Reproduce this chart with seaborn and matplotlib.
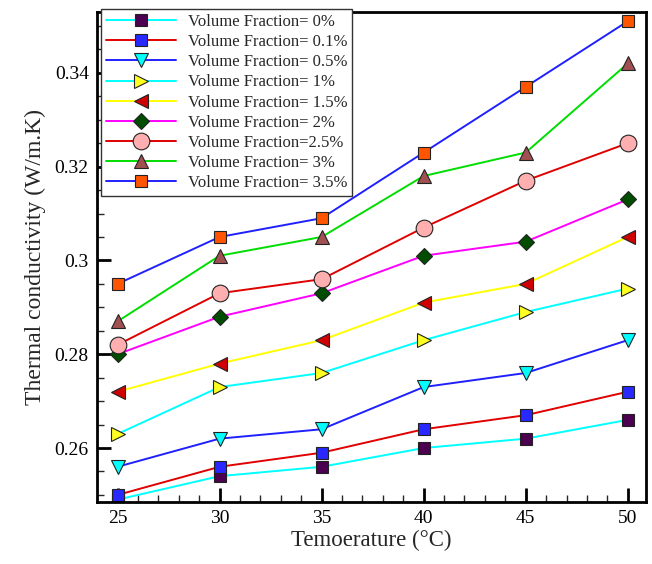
import pandas as pd
import matplotlib
matplotlib.use("Agg")
import matplotlib.pyplot as plt
from matplotlib.ticker import MultipleLocator
import seaborn as sns

# Dados
temperature = [25, 30, 35, 40, 45, 50]
labels = ["Volume Fraction= 0%", "Volume Fraction= 0.1%", "Volume Fraction= 0.5%",
          "Volume Fraction= 1%", "Volume Fraction= 1.5%", "Volume Fraction= 2%",
          "Volume Fraction=2.5%", "Volume Fraction= 3%", "Volume Fraction= 3.5%"]
vf_0 = [0.249, 0.254, 0.256, 0.260, 0.262, 0.266]
vf_01 = [0.250, 0.256, 0.259, 0.264, 0.267, 0.272]
vf_05 = [0.256, 0.262, 0.264, 0.273, 0.276, 0.283]
vf_1 = [0.263, 0.273, 0.276, 0.283, 0.289, 0.294]
vf_15 = [0.272, 0.278, 0.283, 0.291, 0.295, 0.305]
vf_2 = [0.280, 0.288, 0.293, 0.301, 0.304, 0.313]
vf_25 = [0.282, 0.293, 0.296, 0.307, 0.317, 0.325]
vf_3 = [0.287, 0.301, 0.305, 0.318, 0.323, 0.342]
vf_35 = [0.295, 0.305, 0.309, 0.323, 0.337, 0.351]
series = [vf_0, vf_01, vf_05, vf_1, vf_15, vf_2, vf_25, vf_3, vf_35]

# Estilo de cada curva: (cor da linha, marcador, cor do marcador, tamanho)
styles = [
    ("#00FFFF", "s", "#4B0050", 9),
    ("#E00000", "s", "#2828FF", 9),
    ("#2020FF", "v", "#00FFFF", 10),
    ("#00FFFF", ">", "#FFFF20", 10),
    ("#FFFF00", "<", "#D00000", 10),
    ("#FF00FF", "D", "#004D00", 8),
    ("#E00000", "o", "#FFAFAF", 12),
    ("#00DD00", "^", "#A05050", 10),
    ("#2020FF", "s", "#FF5500", 9),
]

sns.set_style("white")
plt.rcParams["font.family"] = ["Liberation Serif", "DejaVu Serif"]

fig, ax = plt.subplots(figsize=(6.52, 5.64), dpi=100)
fig.subplots_adjust(left=0.149, right=0.991, top=0.979, bottom=0.110)

for lab, vals, (lc, mk, mc, ms) in zip(labels, series, styles):
    df = pd.DataFrame({"T": temperature, "k": vals})
    sns.lineplot(data=df, x="T", y="k", ax=ax, color=lc, marker=mk,
                 markerfacecolor=mc, markeredgecolor="#222222", markeredgewidth=0.8,
                 markersize=ms, linewidth=1.4, label=lab)

ax.set_xlim(24.0, 50.9)
ax.set_ylim(0.2485, 0.353)
ax.xaxis.set_major_locator(MultipleLocator(5))
ax.xaxis.set_minor_locator(MultipleLocator(1))
ax.yaxis.set_major_locator(MultipleLocator(0.02))
ax.yaxis.set_minor_locator(MultipleLocator(0.005))
ax.yaxis.set_major_formatter(plt.FuncFormatter(lambda v, p: f"{v:g}"))
ax.tick_params(which="major", direction="in", length=10, width=2, labelsize=14,
               colors="black", bottom=True, left=True, top=False, right=False, pad=6)
ax.tick_params(which="minor", direction="in", length=5, width=1,
               bottom=True, left=True, top=False, right=False)
for s in ax.spines.values():
    s.set_color("black")
    s.set_linewidth(2)

ax.set_xlabel("Temoerature (°C)", fontsize=16.5, labelpad=2)
ax.set_ylabel("Thermal conductivity (W/m.K)", fontsize=17, labelpad=6)

leg = ax.legend(loc="upper left", bbox_to_anchor=(101 / 652, 1 - 9 / 564),
                bbox_transform=fig.transFigure, borderaxespad=0, fontsize=12,
                handlelength=4.2, handletextpad=0.7, labelspacing=0.25,
                borderpad=0.3, fancybox=False, framealpha=1)
leg.get_frame().set_edgecolor("#333333")
leg.get_frame().set_linewidth(1)

plt.savefig("out.png", dpi=100)
plt.close()
